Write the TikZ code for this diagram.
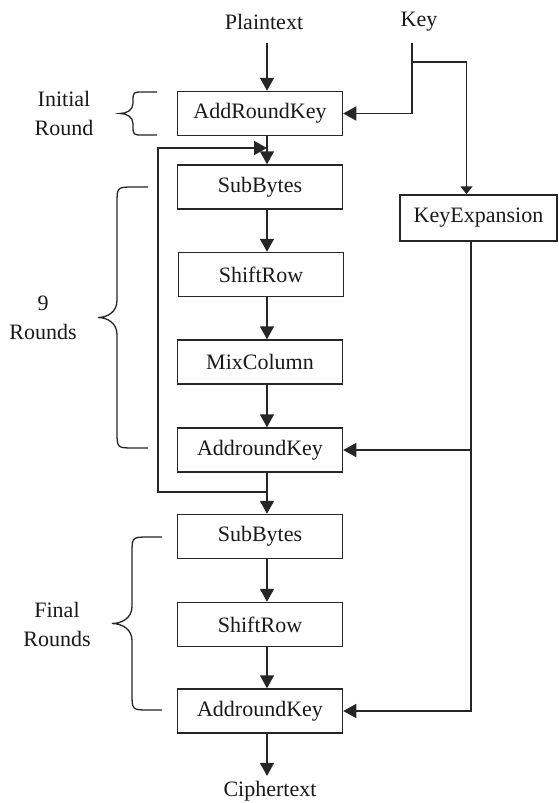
\documentclass[tikz,border=0pt]{standalone}
\usepackage{fontspec}
\setmainfont{Liberation Serif}
\usetikzlibrary{arrows.meta}

% curly brace opening to the right: end x, body x, tip x, top y, bottom y, hook radius
\newcommand\roundbrace[6]{%
  \draw[bracepen] (#1,#4) -- ({#2+#6},#4)
    .. controls (#2,#4) .. (#2,{#4+#6})
    -- (#2,{(#4+#5)/2-#6})
    .. controls (#2,{(#4+#5)/2-#6/3}) and ({(#2+#3)/2},{(#4+#5)/2}) .. (#3,{(#4+#5)/2})
    .. controls ({(#2+#3)/2},{(#4+#5)/2}) and (#2,{(#4+#5)/2+#6/3}) .. (#2,{(#4+#5)/2+#6})
    -- (#2,{#5-#6})
    .. controls (#2,#5) .. ({#2+#6},#5) -- (#1,#5);}

\begin{document}
\begin{tikzpicture}[x=1pt,y=-1pt,
  ink/.style={draw=black!85},
  stage/.style={ink, line width=1.5pt, minimum width=165pt, minimum height=44pt,
    inner sep=0pt, font=\fontsize{22}{26}\selectfont, text=black!90},
  label/.style={font=\fontsize{22}{29}\selectfont, text=black!90, align=center, inner sep=1pt},
  wire/.style={ink, line width=1.5pt},
  arr/.style={wire, -{Triangle[length=13pt,width=14pt]}},
  arrsmall/.style={wire, -{Triangle[length=8pt,width=12pt]}},
  bracepen/.style={ink, line width=1.3pt}]

\fill[white] (0,0) rectangle (558,803);
\useasboundingbox (0,0) rectangle (558,803);

% inputs and output
\node[label] (plain) at (264,22) {Plaintext};
\node[label] (key) at (419,22) {Key};
\node[label] (cipher) at (270,791) {Ciphertext};

% cipher stages
\node[stage] (ark0) at (260,113.5) {AddRoundKey};
\node[stage] (sb1)  at (260,187)   {SubBytes};
\node[stage] (sr1)  at (261,274.5) {ShiftRow};
\node[stage] (mc1)  at (260,362)   {MixColumn};
\node[stage] (ark1) at (260,450)   {AddroundKey};
\node[stage] (sb2)  at (260,536.5) {SubBytes};
\node[stage] (sr2)  at (260,624.5) {ShiftRow};
\node[stage] (ark2) at (260,711)   {AddroundKey};
\node[stage, minimum width=157pt, minimum height=46pt] (kexp) at (478.5,218) {KeyExpansion};

% round labels and braces
\node[label] (lini) at (64,113) {Initial\\Round};
\node[label] (lnine) at (43,318) {9\\Rounds};
\node[label] (lfin) at (57,624) {Final\\Rounds};
\roundbrace{157}{133}{120}{92}{135}{10}
\roundbrace{148}{117}{98}{187}{448}{17}
\roundbrace{162}{132}{112}{537}{710}{17}

% guide coordinates
\coordinate (spine) at (267,0);
\coordinate (kx) at (412,0);
\coordinate (kbranch) at (412,62);
\coordinate (loopout) at (267,492);
\coordinate (loopin) at (267,148);
\coordinate (loopx) at (158,0);
\coordinate (kdown) at ([xshift=-7.5pt]kexp.south);

% data path
\draw[arr, shorten <=12pt] (plain.south -| spine) -- (ark0.north -| spine);
\draw[arr] (ark0.south -| spine) -- (sb1.north -| spine);
\draw[arr] (sb1.south -| spine) -- (sr1.north -| spine);
\draw[arr] (sr1.south -| spine) -- (mc1.north -| spine);
\draw[arr] (mc1.south -| spine) -- (ark1.north -| spine);
\draw[arr] (ark1.south -| spine) -- (sb2.north -| spine);
\draw[arr] (sb2.south -| spine) -- (sr2.north -| spine);
\draw[arr] (sr2.south -| spine) -- (ark2.north -| spine);
\draw[arr, shorten >=4pt] (ark2.south -| spine) -- (cipher.north -| spine);

% loop back for the repeated rounds
\draw[arr] (loopout) -| (loopx |- loopin) -- (loopin);

% key schedule
\draw[arr, shorten <=10pt] (key.south -| kx) |- (ark0.east);
\draw[arrsmall] (kbranch) -| ([xshift=-12pt]kexp.north);
\draw[arr] (kdown) |- (ark2.east);
\draw[arr] (kdown |- ark1.east) -- (ark1.east);
\end{tikzpicture}
\end{document}
